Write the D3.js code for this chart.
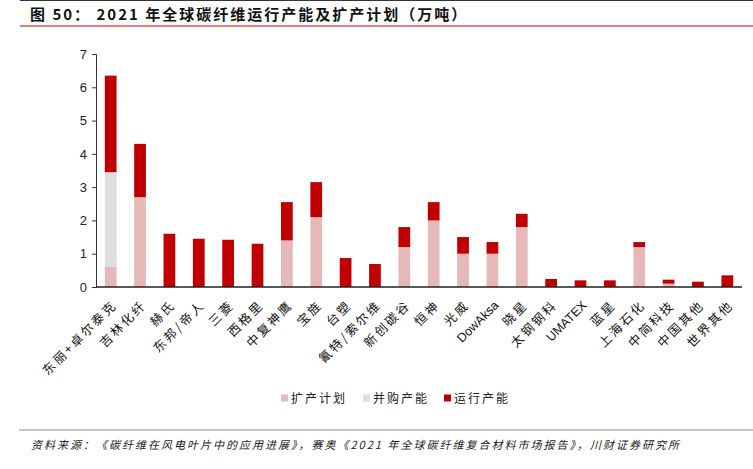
<!DOCTYPE html>
<html><head><meta charset="utf-8">
<script src="https://cdn.jsdelivr.net/npm/d3@7"></script>
<style>
body{margin:0;background:#fff;}
svg{display:block;}
</style></head>
<body>
<script>
const categories = ["东丽+卓尔泰克","吉林化纤","赫氏","东邦/帝人","三菱","西格里","中复神鹰","宝旌","台塑","氰特/索尔维","新创碳谷","恒神","光威","DowAksa","晓星","太钢钢科","UMATEX","蓝星","上海石化","中简科技","中国其他","世界其他"];
const planCap    = [0.6,2.7,0,0,0,0,1.4,2.1,0,0,1.2,2.0,1.0,1.0,1.8,0,0,0,1.2,0.1,0,0];
const mergerCap  = [2.85,0,0,0,0,0,0,0,0,0,0,0,0,0,0,0,0,0,0,0,0,0];
const runningCap = [2.9,1.6,1.6,1.45,1.42,1.3,1.15,1.05,0.87,0.69,0.6,0.55,0.5,0.35,0.4,0.24,0.2,0.2,0.15,0.12,0.16,0.35];
const seriesNames = ["扩产计划","并购产能","运行产能"];
const yTicks = [0,1,2,3,4,5,6,7];
const titleText = "图 50： 2021 年全球碳纤维运行产能及扩产计划（万吨）";
const sourceText = "资料来源：《碳纤维在风电叶片中的应用进展》，赛奥《2021 年全球碳纤维复合材料市场报告》，川财证券研究所";

const W = 753, H = 469;
const colors = ["#E6B9B8","#DEDEDE","#C00000"];
const cjk = "'Noto Sans CJK SC','Noto Sans',sans-serif";
const latin = "'Liberation Sans',Arial,sans-serif";

const svg = d3.select("body").append("svg").attr("width", W).attr("height", H);

// header
svg.append("line").attr("x1",20).attr("x2",W).attr("y1",0.5).attr("y2",0.5).attr("stroke","#333").attr("stroke-width",1);
svg.append("text").attr("x",30).attr("y",19.5).attr("font-family",cjk).attr("font-weight","bold")
  .attr("font-size",15).attr("letter-spacing",2).attr("fill","#111").text(titleText);
svg.append("line").attr("x1",20).attr("x2",W).attr("y1",26).attr("y2",26).attr("stroke","#C00000").attr("stroke-width",1.2);

const data = categories.map((c,i)=>({cat:c, [seriesNames[0]]:planCap[i], [seriesNames[1]]:mergerCap[i], [seriesNames[2]]:runningCap[i]}));
const stack = d3.stack().keys(seriesNames)(data);

const x = d3.scaleBand().domain(categories).range([96, 742]).paddingInner(0.6).paddingOuter(0.3);
const y = d3.scaleLinear().domain([0,7]).range([287, 54]);

const g = svg.append("g");
stack.forEach((s,si)=>{
  g.selectAll(null).data(s).enter().append("rect")
    .attr("x", d=>x(d.data.cat))
    .attr("width", x.bandwidth())
    .attr("y", d=>y(d[1]))
    .attr("height", d=>Math.max(0, y(d[0])-y(d[1])))
    .attr("fill", colors[si]);
});

// y axis
const yAxis = d3.axisLeft(y).tickValues(yTicks).tickSize(4).tickPadding(5).tickFormat(d3.format("d"));
const ya = svg.append("g").attr("transform","translate(96,0)").call(yAxis);
ya.select(".domain").attr("stroke","#333");
ya.selectAll(".tick line").attr("stroke","#333");
ya.selectAll("text").attr("font-family",latin).attr("font-size",13).attr("fill","#222");

// x axis
const xAxis = d3.axisBottom(x).tickSize(0).tickSizeOuter(0);
const xa = svg.append("g").attr("transform","translate(0,287)").call(xAxis);
xa.select(".domain").attr("stroke","#222").attr("stroke-width",1.5).attr("d","M96,0H742");
xa.selectAll(".tick text")
  .attr("font-family", d=>/^[A-Za-z]/.test(d)?latin:cjk)
  .attr("font-size",12.5)
  .attr("letter-spacing", d=>/^[A-Za-z]/.test(d)?0:2.4)
  .attr("fill","#111")
  .attr("text-anchor","end")
  .attr("dy",0)
  .attr("y",0)
  .attr("transform","translate(7,19) rotate(-45)");

// legend
const legX = [281, 363, 444];
seriesNames.forEach((n,i)=>{
  svg.append("rect").attr("x",legX[i]).attr("y",394.5).attr("width",7).attr("height",7).attr("fill",colors[i]);
  svg.append("text").attr("x",legX[i]+10).attr("y",403).attr("font-family",cjk).attr("font-size",12)
    .attr("letter-spacing",2).attr("fill","#222").text(n);
});

// footer
svg.append("line").attr("x1",19).attr("x2",W).attr("y1",430).attr("y2",430).attr("stroke","#888").attr("stroke-width",1);
svg.append("text").attr("x",31).attr("y",449).attr("font-family",cjk).attr("font-style","italic")
  .attr("font-size",11).attr("letter-spacing",2).attr("fill","#222").text(sourceText);
</script>
</body></html>
